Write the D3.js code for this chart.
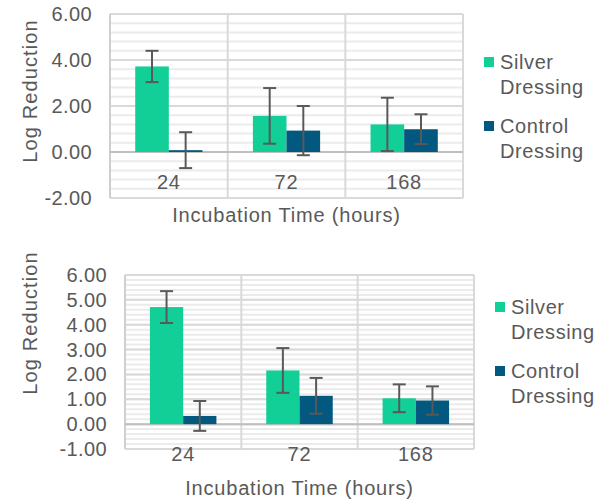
<!DOCTYPE html>
<html>
<head>
<meta charset="utf-8">
<script src="https://cdn.jsdelivr.net/npm/d3@7"></script>
<style>
  body { margin: 0; background: #fff; }
  svg text { font-family: "Liberation Sans", Arial, sans-serif; fill: #595959; }
</style>
</head>
<body>
<div id="chart"></div>
<script>
// hours of incubation
const categories = ['24', '72', '168'];
const seriesNames = ['Silver Dressing', 'Control Dressing'];

// top panel
const topSilver = [3.72, 1.57, 1.20];
const topSilverErr = [0.68, 1.21, 1.16];
const topControl = [0.08, 0.93, 0.99];
const topControlErr = [0.78, 1.07, 0.65];
const topTicks = [-2, 0, 2, 4, 6];

// bottom panel
const bottomSilver = [4.71, 2.16, 1.04];
const bottomSilverErr = [0.64, 0.90, 0.56];
const bottomControl = [0.33, 1.14, 0.95];
const bottomControlErr = [0.60, 0.72, 0.57];
const bottomTicks = [-1, 0, 1, 2, 3, 4, 5, 6];

const colors = ['#12CF98', '#02587F'];

const svg = d3.select('#chart').append('svg')
    .attr('width', 597)
    .attr('height', 500);

const fmt = d => d3.format('.2f')(d).replace('\u2212', '-');

function drawPanel(cfg) {
    const g = svg.append('g');
    const x0 = d3.scaleBand()
        .domain(categories)
        .range([cfg.left, cfg.right])
        .padding(0);
    const x1 = d3.scaleBand()
        .domain([0, 1])
        .range([0, x0.bandwidth()])
        .paddingInner(0)
        .paddingOuter(0.75);
    const y = d3.scaleLinear()
        .domain([cfg.ticks[0], cfg.ticks[cfg.ticks.length - 1]])
        .range([cfg.bottom, cfg.top]);

    // minor grid
    const minor = d3.range(cfg.ticks[0], cfg.ticks[cfg.ticks.length - 1], cfg.minorStep);
    g.append('g').selectAll('line')
        .data(minor)
        .enter().append('line')
        .attr('x1', cfg.left).attr('x2', cfg.right)
        .attr('y1', d => y(d)).attr('y2', d => y(d))
        .attr('stroke', '#ebebeb')
        .attr('stroke-width', 2);

    // major grid
    g.append('g').selectAll('line')
        .data(cfg.ticks)
        .enter().append('line')
        .attr('x1', cfg.left).attr('x2', cfg.right)
        .attr('y1', d => y(d)).attr('y2', d => y(d))
        .attr('stroke', '#d9d9d9')
        .attr('stroke-width', 2);

    // vertical category separators
    g.append('g').selectAll('line')
        .data(categories.concat(['end']))
        .enter().append('line')
        .attr('x1', d => d === 'end' ? cfg.right : x0(d))
        .attr('x2', d => d === 'end' ? cfg.right : x0(d))
        .attr('y1', cfg.top).attr('y2', cfg.bottom)
        .attr('stroke', (d, i) => i === 0 ? '#cfcfcf' : '#d9d9d9')
        .attr('stroke-width', 2);

    // zero line
    g.append('line')
        .attr('x1', cfg.left).attr('x2', cfg.right)
        .attr('y1', y(0)).attr('y2', y(0))
        .attr('stroke', '#bfbfbf')
        .attr('stroke-width', 2);

    const rows = [];
    categories.forEach((c, i) => {
        rows.push({ cat: c, s: 0, v: cfg.silver[i], e: cfg.silverErr[i] });
        rows.push({ cat: c, s: 1, v: cfg.control[i], e: cfg.controlErr[i] });
    });

    g.append('g').selectAll('rect')
        .data(rows)
        .enter().append('rect')
        .attr('x', d => x0(d.cat) + x1(d.s))
        .attr('width', x1.bandwidth())
        .attr('y', d => y(Math.max(0, d.v)))
        .attr('height', d => Math.abs(y(d.v) - y(0)))
        .attr('fill', d => colors[d.s]);

    // error bars
    const eb = g.append('g').attr('stroke', '#595959').attr('stroke-width', 2);
    rows.forEach(d => {
        const cx = x0(d.cat) + x1(d.s) + x1.bandwidth() / 2;
        eb.append('line')
            .attr('x1', cx).attr('x2', cx)
            .attr('y1', y(d.v + d.e)).attr('y2', y(d.v - d.e));
        [d.v + d.e, d.v - d.e].forEach(v => {
            eb.append('line')
                .attr('x1', cx - 6.5).attr('x2', cx + 6.5)
                .attr('y1', y(v)).attr('y2', y(v));
        });
    });

    // y tick labels
    g.append('g').selectAll('text')
        .data(cfg.ticks)
        .enter().append('text')
        .attr('x', cfg.left - 18)
        .attr('y', d => y(d))
        .attr('dy', '0.35em')
        .attr('text-anchor', 'end')
        .style('font-size', '20px')
        .style('letter-spacing', '0.4px')
        .text(fmt);

    // category labels
    g.append('g').selectAll('text')
        .data(categories)
        .enter().append('text')
        .attr('x', d => x0(d) + x0.bandwidth() / 2)
        .attr('y', y(0) + 30)
        .attr('dy', '0.35em')
        .attr('text-anchor', 'middle')
        .style('font-size', '20px')
        .style('letter-spacing', '0.8px')
        .text(d => d);

    g.append('text')
        .attr('x', (cfg.left + cfg.right) / 2)
        .attr('y', cfg.xTitleY)
        .attr('dy', '0.35em')
        .attr('text-anchor', 'middle')
        .style('font-size', '20px')
        .style('letter-spacing', '0.8px')
        .text('Incubation Time (hours)');

    g.append('text')
        .attr('transform', 'translate(30,' + cfg.yTitleY + ') rotate(-90)')
        .attr('dy', '0.35em')
        .attr('text-anchor', 'middle')
        .style('font-size', '20px')
        .style('letter-spacing', '1.1px')
        .text('Log Reduction');

    // legend
    const leg = g.append('g');
    seriesNames.forEach((name, i) => {
        const words = name.split(' ');
        const ly = cfg.legendY + i * 64;
        leg.append('rect')
            .attr('x', cfg.legendX)
            .attr('y', ly - 5)
            .attr('width', 10).attr('height', 10)
            .attr('fill', colors[i]);
        words.forEach((w, j) => {
            leg.append('text')
                .attr('x', cfg.legendX + 16)
                .attr('y', ly + j * 25)
                .attr('dy', '0.35em')
                .style('font-size', '20px')
                .style('letter-spacing', '0.6px')
                .text(w);
        });
    });
}

drawPanel({
    left: 110, right: 463, top: 14, bottom: 198,
    ticks: topTicks, minorStep: 0.4,
    silver: topSilver, silverErr: topSilverErr,
    control: topControl, controlErr: topControlErr,
    xTitleY: 215, yTitleY: 91,
    legendX: 484, legendY: 62
});

drawPanel({
    left: 125, right: 474, top: 275, bottom: 449,
    ticks: bottomTicks, minorStep: 0.2,
    silver: bottomSilver, silverErr: bottomSilverErr,
    control: bottomControl, controlErr: bottomControlErr,
    xTitleY: 488, yTitleY: 323,
    legendX: 495, legendY: 307
});
</script>
</body>
</html>
